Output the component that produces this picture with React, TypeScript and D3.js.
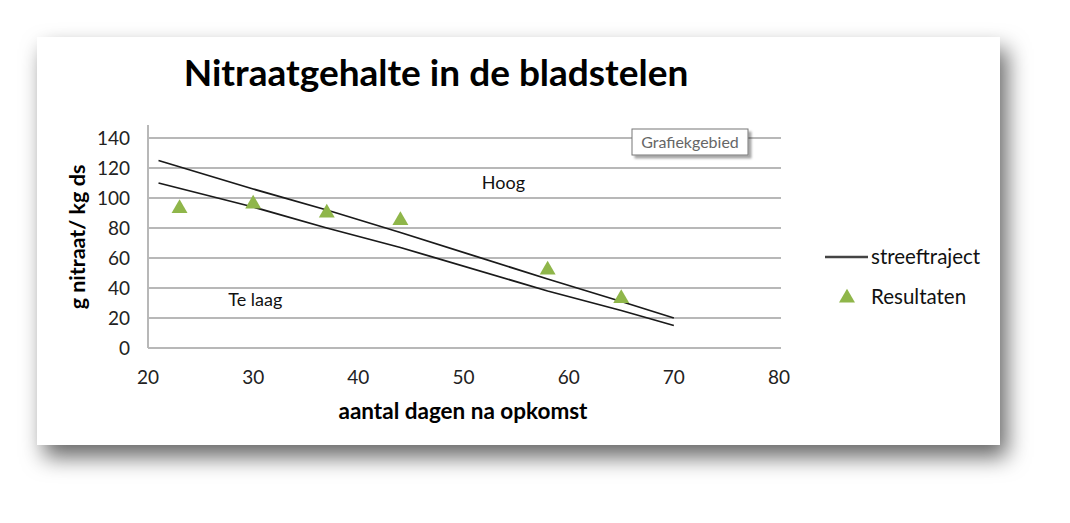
import { useEffect, useRef } from 'react';
import * as d3 from 'd3';

const title = 'Nitraatgehalte in de bladstelen';
const xTitle = 'aantal dagen na opkomst';
const yTitle = 'g nitraat/ kg ds';

const xTicks = [20, 30, 40, 50, 60, 70, 80];
const yTicks = [0, 20, 40, 60, 80, 100, 120, 140];

// streeftraject: upper and lower band (days, g/kg)
const upperDays = [21, 30, 37, 44, 58, 65, 70];
const upperValues = [125, 106, 92, 77, 46, 31, 20];
const lowerDays = [21, 30, 37, 44, 58, 65, 70];
const lowerValues = [110, 94, 80, 67, 38, 25, 15];

// Resultaten
const resultDays = [23, 30, 37, 44, 58, 65];
const resultValues = [93, 96, 90, 85, 52, 33];

const notes = [
  { text: 'Hoog', day: 53.8, value: 110 },
  { text: 'Te laag', day: 30.2, value: 32 },
];

const W = 1070;
const H = 523;
const FONT = 'Lato, "Open Sans", sans-serif';
const GREEN = '#8fb64a';

export default function App() {
  const svgRef = useRef<SVGSVGElement>(null);

  useEffect(() => {
    if (!svgRef.current) return;
    const svg = d3.select(svgRef.current);
    svg.selectAll('*').remove();

    const x = d3.scaleLinear().domain([20, 80]).range([148, 779]);
    const y = d3.scaleLinear().domain([0, 140]).range([348, 138]);

    // card shadow
    const defs = svg.append('defs');
    const f = defs.append('filter').attr('id', 'card-shadow')
      .attr('x', '-10%').attr('y', '-20%').attr('width', '125%').attr('height', '150%');
    f.append('feDropShadow').attr('dx', 7).attr('dy', 12).attr('stdDeviation', 11)
      .attr('flood-color', '#000').attr('flood-opacity', 0.6);
    const f2 = defs.append('filter').attr('id', 'box-shadow')
      .attr('x', '-20%').attr('y', '-40%').attr('width', '140%').attr('height', '180%');
    f2.append('feDropShadow').attr('dx', 3).attr('dy', 3).attr('stdDeviation', 1.2)
      .attr('flood-color', '#000').attr('flood-opacity', 0.35);

    svg.append('rect').attr('width', W).attr('height', H).attr('fill', '#fff');
    svg.append('rect')
      .attr('x', 37).attr('y', 37).attr('width', 963).attr('height', 408)
      .attr('fill', '#fff').attr('filter', 'url(#card-shadow)');

    // title
    svg.append('text')
      .attr('x', 436).attr('y', 86)
      .attr('text-anchor', 'middle')
      .attr('font-family', FONT).attr('font-weight', 700).attr('font-size', 37)
      .attr('fill', '#000')
      .text(title);

    // gridlines
    svg.append('g').selectAll('line').data(yTicks).enter().append('line')
      .attr('x1', x(20)).attr('x2', x(80) + 2)
      .attr('y1', d => y(d)).attr('y2', d => y(d))
      .attr('stroke', '#b8b8b8').attr('stroke-width', 2);

    // y axis line
    svg.append('line')
      .attr('x1', x(20)).attr('x2', x(20))
      .attr('y1', y(140) - 13).attr('y2', y(0))
      .attr('stroke', '#b8b8b8').attr('stroke-width', 2);

    // tick labels
    svg.append('g').selectAll('text').data(yTicks).enter().append('text')
      .attr('x', 130).attr('y', d => y(d)).attr('dy', '0.35em')
      .attr('text-anchor', 'end')
      .attr('font-family', FONT).attr('font-size', 19).attr('fill', '#222')
      .text(d => d);
    svg.append('g').selectAll('text').data(xTicks).enter().append('text')
      .attr('x', d => x(d)).attr('y', 384)
      .attr('text-anchor', 'middle')
      .attr('font-family', FONT).attr('font-size', 19).attr('fill', '#222')
      .text(d => d);

    // axis titles
    svg.append('text')
      .attr('x', 463).attr('y', 419)
      .attr('text-anchor', 'middle')
      .attr('font-family', FONT).attr('font-weight', 700).attr('font-size', 22.5)
      .attr('fill', '#000')
      .text(xTitle);
    svg.append('text')
      .attr('transform', 'translate(85,237) rotate(-90)')
      .attr('text-anchor', 'middle')
      .attr('font-family', FONT).attr('font-weight', 700).attr('font-size', 21.5)
      .attr('fill', '#000')
      .text(yTitle);

    // streeftraject lines
    const line = d3.line<[number, number]>().x(d => x(d[0])).y(d => y(d[1]));
    const upper = upperDays.map((d, i) => [d, upperValues[i]] as [number, number]);
    const lower = lowerDays.map((d, i) => [d, lowerValues[i]] as [number, number]);
    [upper, lower].forEach(pts => {
      svg.append('path').attr('d', line(pts))
        .attr('fill', 'none').attr('stroke', '#1a1a1a').attr('stroke-width', 1.8);
    });

    // results
    const tri = d3.symbol().type(d3.symbolTriangle).size(110);
    svg.append('g').selectAll('path').data(resultDays).enter().append('path')
      .attr('d', tri)
      .attr('transform', (d, i) => `translate(${x(d)},${y(resultValues[i])})`)
      .attr('fill', GREEN);

    // annotations
    svg.append('g').selectAll('text').data(notes).enter().append('text')
      .attr('x', d => x(d.day)).attr('y', d => y(d.value)).attr('dy', '0.35em')
      .attr('text-anchor', 'middle')
      .attr('font-family', FONT).attr('font-size', 18).attr('fill', '#111')
      .text(d => d.text);

    // "Grafiekgebied" hint box
    const bx = 632, by = 129, bw = 116, bh = 26;
    svg.append('rect')
      .attr('x', bx).attr('y', by).attr('width', bw).attr('height', bh)
      .attr('fill', '#fff').attr('stroke', '#777').attr('stroke-width', 1)
      .attr('filter', 'url(#box-shadow)');
    svg.append('text')
      .attr('x', bx + bw / 2).attr('y', by + bh / 2).attr('dy', '0.35em')
      .attr('text-anchor', 'middle')
      .attr('font-family', FONT).attr('font-size', 16).attr('fill', '#666')
      .text('Grafiekgebied');

    // legend
    const lg = svg.append('g');
    lg.append('line').attr('x1', 825).attr('x2', 868).attr('y1', 257).attr('y2', 257)
      .attr('stroke', '#444').attr('stroke-width', 2.5);
    lg.append('text').attr('x', 871).attr('y', 257).attr('dy', '0.35em')
      .attr('font-family', FONT).attr('font-size', 20.5).attr('fill', '#111')
      .text('streeftraject');
    lg.append('path').attr('d', tri).attr('transform', 'translate(847,298)').attr('fill', GREEN);
    lg.append('text').attr('x', 871).attr('y', 297).attr('dy', '0.35em')
      .attr('font-family', FONT).attr('font-size', 20.5).attr('fill', '#111')
      .text('Resultaten');
  }, []);

  return (
    <div style={{ position: 'absolute', left: 0, top: 0 }}>
      <svg ref={svgRef} width={W} height={H} style={{ display: 'block' }} />
    </div>
  );
}
